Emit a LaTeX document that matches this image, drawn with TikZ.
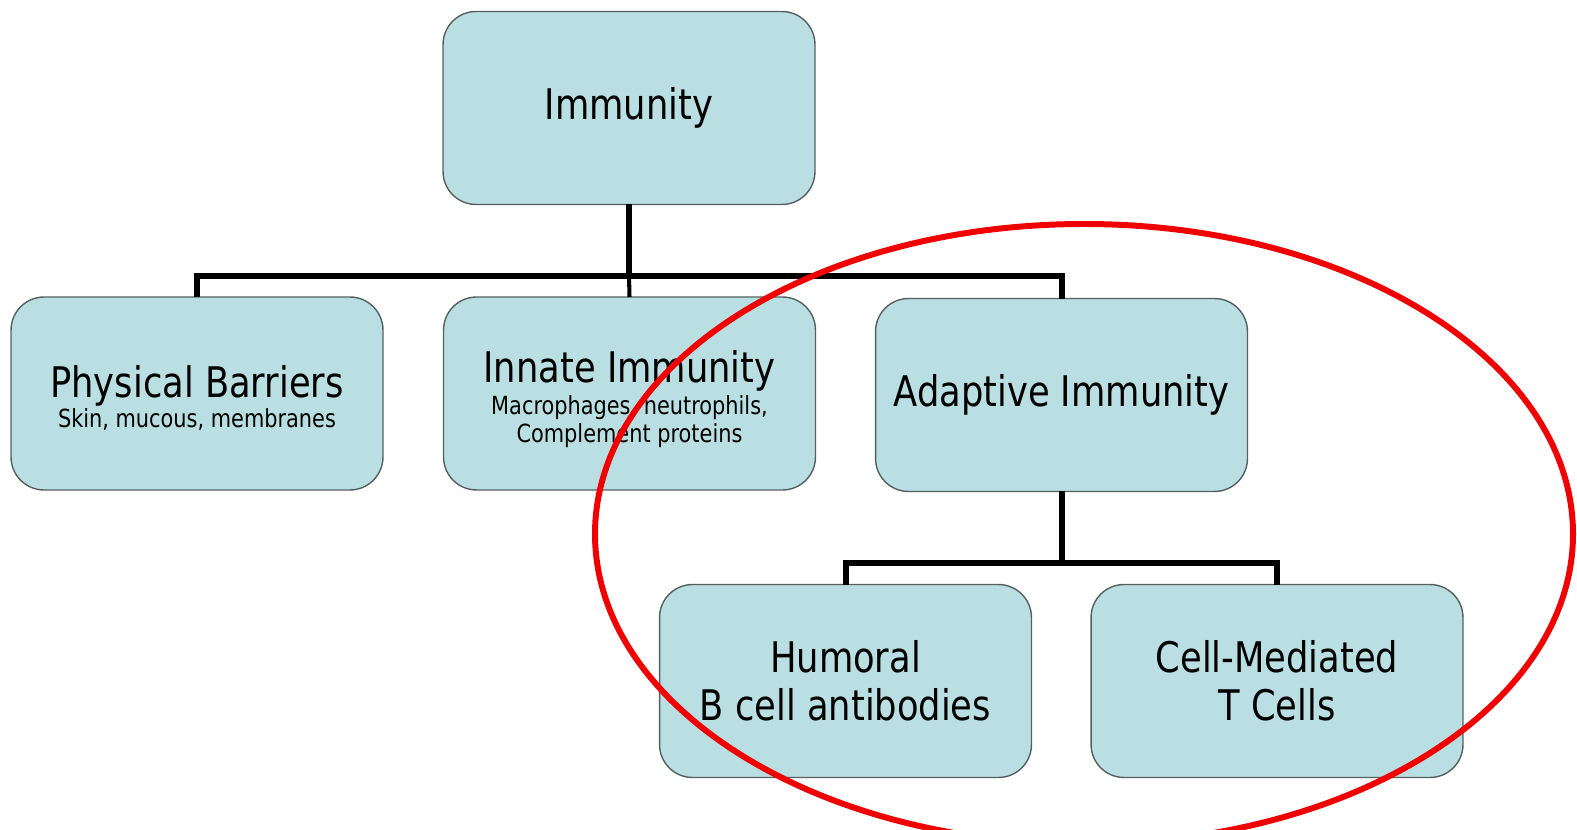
\documentclass[tikz,border=0pt]{standalone}
\usepackage{fontspec}
\setmainfont{DejaVu Sans Condensed}[FakeStretch=0.93]
\definecolor{boxfill}{RGB}{186,223,226}
\definecolor{boxline}{RGB}{85,95,97}
\definecolor{ringred}{RGB}{240,0,0}
\newcommand{\mainfont}{\fontsize{24}{28}\selectfont}
\newcommand{\subfont}{\fontsize{14.2}{17}\selectfont}
\begin{document}
\begin{tikzpicture}[x=0.02cm,y=-0.02cm,
  box/.style={draw=boxline, line width=0.8pt, fill=boxfill, rounded corners=0.66cm,
    minimum width=7.44cm, minimum height=3.86cm, inner sep=0pt, outer sep=0pt,
    align=center, font=\mainfont},
  conn/.style={draw=black, line width=3.4pt},
  connthin/.style={draw=black, line width=2.3pt},
  ring/.style={draw=ringred, line width=3.4pt}]
\useasboundingbox (0,0) rectangle (1577,830);
\begin{scope}
\clip (0,0) rectangle (1577,830);
\node[box] (imm) at (629,108) {Immunity};
\coordinate (bus) at (629,276);
\coordinate (bus2) at (1061.5,563);
\path[conn] (imm.south) -- (bus);
\node[box] (phys) at (197,393.5) {\rule{0pt}{23pt}Physical Barriers\\[-11pt]{\subfont Skin, mucous, membranes}};
\node[box] (innate) at (629.5,393.5) {\rule{0pt}{24.4pt}Innate Immunity\\[-10pt]{\subfont Macrophages, neutrophils,}\\[-12pt]{\subfont Complement proteins}};
\node[box] (adapt) at (1061.5,395) {Adaptive Immunity};
\node[box] (hum) at (845.5,681) {Humoral\\[-0.7pt]B cell antibodies};
\node[box] (cell) at (1277,681) {Cell-Mediated\\[-0.7pt]T Cells};
\path[conn] (phys.north) |- (bus) -| (adapt.north);
\path[connthin] (bus) -- (innate.north);
\path[conn] (adapt.south) -- (bus2);
\path[conn] (hum.north) |- (bus2) -| (cell.north);
\draw[ring] (1084,534) ellipse [x radius=489, y radius=310];
\end{scope}
\end{tikzpicture}
\end{document}
